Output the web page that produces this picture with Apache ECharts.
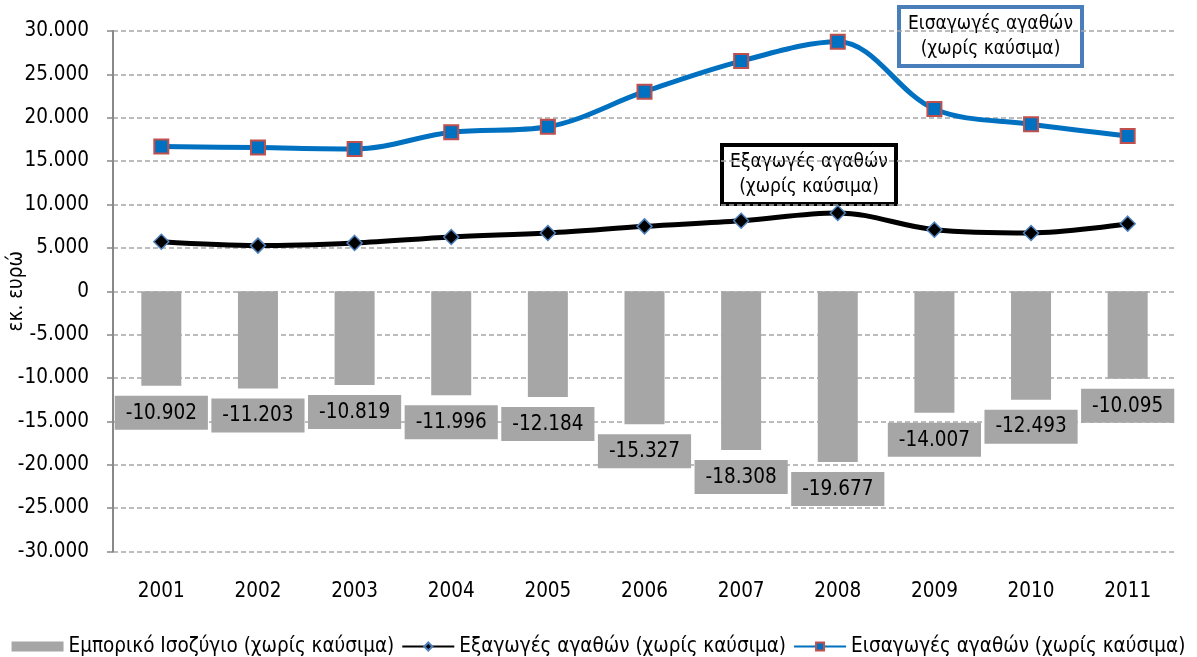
<!DOCTYPE html>
<html>
<head>
<meta charset="utf-8">
<script src="https://cdn.jsdelivr.net/npm/echarts@6/dist/echarts.min.js"></script>
<style>
  html, body { margin: 0; padding: 0; background: #fff; }
  #chart { width: 1197px; height: 657px; }
</style>
</head>
<body>
<div id="chart"></div>
<script>
// Years on the category axis
const years = ['2001', '2002', '2003', '2004', '2005', '2006', '2007', '2008', '2009', '2010', '2011'];
// Trade balance excluding fuels (million euro)
const balance = [-10902, -11203, -10819, -11996, -12184, -15327, -18308, -19677, -14007, -12493, -10095];
// Exports of goods excluding fuels (million euro)
const exportsGoods = [5700, 5260, 5570, 6260, 6720, 7480, 8130, 9020, 7100, 6720, 7790];
// Imports of goods excluding fuels (million euro)
const importsGoods = [16680, 16560, 16410, 18330, 18970, 23000, 26530, 28750, 21010, 19250, 17900];

const seriesNames = [
  'Εμπορικό Ισοζύγιο (χωρίς καύσιμα)',
  'Εξαγωγές αγαθών (χωρίς καύσιμα)',
  'Εισαγωγές αγαθών (χωρίς καύσιμα)'
];
const axisTitle = 'εκ. ευρώ';
const importsNote = ['Εισαγωγές αγαθών', '(χωρίς καύσιμα)'];
const exportsNote = ['Εξαγωγές αγαθών', '(χωρίς καύσιμα)'];

const FONT = "'DejaVu Sans Condensed', 'DejaVu Sans', sans-serif";
const FS = 20.5;
const NOTE_FS = 19;

// Greek number style: dot as thousands separator
function fmt(v) {
  const neg = v < 0;
  const s = Math.abs(Math.round(v)).toString().replace(/\B(?=(\d{3})+(?!\d))/g, '.');
  return (neg ? '-' : '') + s;
}

// Boxed two-line callout
function callout(x, y, w, h, lines, stroke) {
  return {
    type: 'group',
    x: x,
    y: y,
    z: 10,
    children: [
      {
        type: 'rect',
        shape: { x: 0, y: 0, width: w, height: h },
        style: { fill: '#fff', stroke: stroke, lineWidth: 4 }
      },
      {
        type: 'text',
        x: w / 2,
        y: h / 2 - 12,
        style: {
          text: lines[0], font: NOTE_FS + 'px ' + FONT, fill: '#000',
          align: 'center', verticalAlign: 'middle',
          textAlign: 'center', textVerticalAlign: 'middle'
        }
      },
      {
        type: 'text',
        x: w / 2,
        y: h / 2 + 13,
        style: {
          text: lines[1], font: NOTE_FS + 'px ' + FONT, fill: '#000',
          align: 'center', verticalAlign: 'middle',
          textAlign: 'center', textVerticalAlign: 'middle'
        }
      }
    ]
  };
}

const chart = echarts.init(document.getElementById('chart'), null, { renderer: 'canvas' });

chart.setOption({
  animation: false,
  backgroundColor: '#ffffff',
  textStyle: { fontFamily: FONT },
  grid: { left: 113, right: 21, top: 31, bottom: 105.5, containLabel: false, outerBoundsMode: 'none' },
  legend: {
    top: 631,
    left: 'center',
    itemWidth: 52,
    itemHeight: 10,
    itemGap: 7,
    textStyle: { fontSize: FS, color: '#000', fontFamily: FONT },
    data: [
      { name: seriesNames[0], icon: 'rect' },
      { name: seriesNames[1] },
      { name: seriesNames[2] }
    ]
  },
  xAxis: {
    type: 'category',
    data: years,
    axisLine: { show: false, onZero: false },
    axisTick: { show: false },
    axisLabel: { color: '#000', fontSize: FS, margin: 30, fontFamily: FONT },
    splitLine: { show: false }
  },
  yAxis: {
    type: 'value',
    min: -30000,
    max: 30000,
    interval: 5000,
    name: axisTitle,
    nameLocation: 'middle',
    nameGap: 86,
    nameRotate: 90,
    nameMoveOverlap: false,
    nameTextStyle: { color: '#000', fontSize: FS, fontFamily: FONT },
    axisLine: { show: true, lineStyle: { color: '#888888', width: 2 } },
    axisTick: { show: true, length: 6, lineStyle: { color: '#888888', width: 1.5 } },
    axisLabel: { color: '#000', fontSize: FS, margin: 24, formatter: fmt, fontFamily: FONT },
    splitLine: { show: true, lineStyle: { color: '#a6a6a6', width: 1.5, type: [5, 3] } }
  },
  series: [
    {
      name: seriesNames[0],
      type: 'bar',
      data: balance,
      barWidth: 40,
      itemStyle: { color: '#a6a6a6' },
      z: 2,
      label: {
        show: true,
        position: 'bottom',
        distance: 10,
        formatter: p => fmt(p.value),
        backgroundColor: '#a6a6a6',
        padding: [7, 11, 6, 11],
        color: '#000',
        fontSize: FS,
        fontFamily: FONT
      }
    },
    {
      name: seriesNames[1],
      type: 'line',
      data: exportsGoods,
      smooth: 0.35,
      symbol: 'diamond',
      symbolSize: 15,
      lineStyle: { color: '#000000', width: 5 },
      itemStyle: { color: '#000000', borderColor: '#4f81bd', borderWidth: 1.5 },
      z: 4
    },
    {
      name: seriesNames[2],
      type: 'line',
      data: importsGoods,
      smooth: 0.35,
      symbol: 'rect',
      symbolSize: 14,
      lineStyle: { color: '#0070c0', width: 5 },
      itemStyle: { color: '#0070c0', borderColor: '#c0504d', borderWidth: 2 },
      z: 5
    }
  ],
  graphic: [
    callout(899, 7, 183, 59, importsNote, '#4a7ebb'),
    callout(722, 145, 174, 59, exportsNote, '#000000')
  ]
});
</script>
</body>
</html>
